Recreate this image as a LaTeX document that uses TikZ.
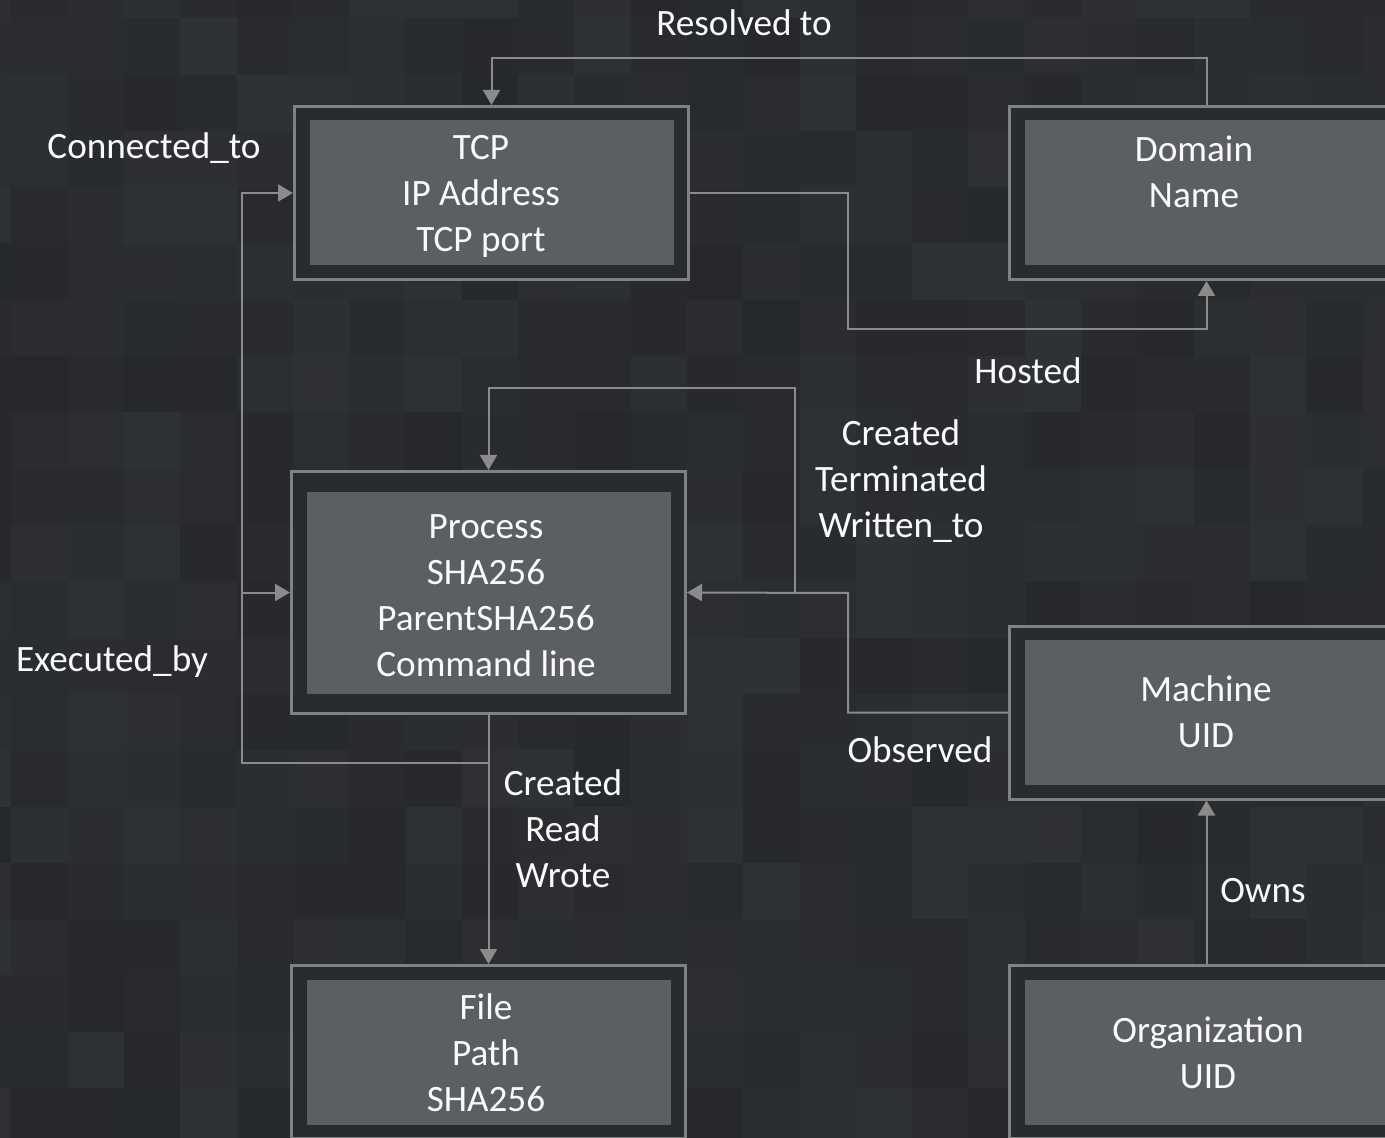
\documentclass[tikz,border=0pt]{standalone}
\usepackage{fontspec}
\setmainfont{Carlito}
\usetikzlibrary{arrows.meta,calc}

\definecolor{bgLo}{HTML}{25272A}
\definecolor{bgHi}{HTML}{2F3236}
\definecolor{band}{HTML}{2A2B2E}
\definecolor{edge}{HTML}{7D8383}
\definecolor{core}{HTML}{5C5F62}
\definecolor{wire}{HTML}{8B8B8B}
\definecolor{ink}{HTML}{FAFAFA}

\newlength{\bandv}
\setlength{\bandv}{7pt}

\tikzset{
  entity/.style={rectangle, fill=band, draw=edge, line width=1.5pt, inner sep=0pt,
    minimum width=197pt, minimum height=86.5pt,
    path picture={\fill[core]
      ($(path picture bounding box.south west)+(7.5pt,\bandv)$) rectangle
      ($(path picture bounding box.north east)+(-7.5pt,-\bandv)$);}},
  wideband/.style={path picture={\fill[core]
      ($(path picture bounding box.south west)+(7.5pt,10pt)$) rectangle
      ($(path picture bounding box.north east)+(-7.5pt,-10pt)$);}},
  caption/.style={text=ink, font=\fontsize{18.6}{23}\selectfont, align=center, inner sep=0pt},
  conn/.style={draw=wire, line width=1pt, -{Triangle[width=8.5pt,length=7.5pt]}},
}

\begin{document}
\begin{tikzpicture}[x=0.5pt,y=-0.5pt]
\useasboundingbox (0,0) rectangle (1385,1138);
\clip (0,0) rectangle (1385,1138);

% tiled backdrop
\pgfmathsetseed{11}
\foreach \i in {0,...,25}{
  \foreach \j in {0,...,21}{
    \pgfmathtruncatemacro{\mixv}{random(10,90)}
    \fill[bgHi!\mixv!bgLo] ({-45+56.3*\i},{-38+56.3*\j}) rectangle ++(56.5,56.5);
  }
}

% entities
\node[entity] (tcp)  at (491.5,193) {};
\node[entity] (dom)  at (1206.5,193) {};
\node[entity, minimum height=121pt, wideband] (proc) at (488.5,592.5) {};
\node[entity] (mach) at (1206.5,712.5) {};
\node[entity] (file) at (488.5,1052) {};
\node[entity] (org)  at (1206.5,1052) {};

\node[caption] (tcpT)  at (481,196)   {TCP\\IP Address\\TCP port};
\node[caption] (domT)  at (1194,172)  {Domain\\Name};
\node[caption] (procT) at (486,596)   {Process\\SHA256\\ParentSHA256\\Command line};
\node[caption] (machT) at (1206,712)  {Machine\\UID};
\node[caption] (fileT) at (486,1053)  {File\\Path\\SHA256};
\node[caption] (orgT)  at (1208,1053) {Organization\\UID};

% bend points
\coordinate (rtop)  at (850,58);
\coordinate (hbend) at (848,329);
\coordinate (loopL) at (242,763);
\coordinate (ctop)  at (795,388);
\coordinate (obs)   at (848,593);

% connectors
\draw[conn] (dom.north) |- (rtop) -| (tcp.north);
\draw[conn] (tcp.east) -| (hbend) -| (dom.south);
\draw[conn] (proc.south) |- (loopL) |- (tcp.west);
\draw[conn] (loopL |- proc.west) -- (proc.west);
\draw[conn] (proc.south) -- (file.north);
\draw[conn] (ctop |- proc.east) -- (ctop) -| (proc.north);
\draw[conn] (mach.west) -| (obs) -- (proc.east);
\draw[conn] (org.north) -- (mach.south);

% relation labels
\node[caption] (lResolved) at (744,23)  {Resolved to};
\node[caption] (lConn)     at (154,148) {Connected\_to};
\node[caption] (lHosted)   at (1028,371) {Hosted};
\node[caption] (lCreated)  at (901,481) {Created\\Terminated\\Written\_to};
\node[caption] (lExec)     at (112,662) {Executed\_by};
\node[caption] (lObs)      at (920,750) {Observed};
\node[caption] (lFile)     at (563,829) {Created\\Read\\Wrote};
\node[caption] (lOwns)     at (1263,891) {Owns};
\end{tikzpicture}
\end{document}
